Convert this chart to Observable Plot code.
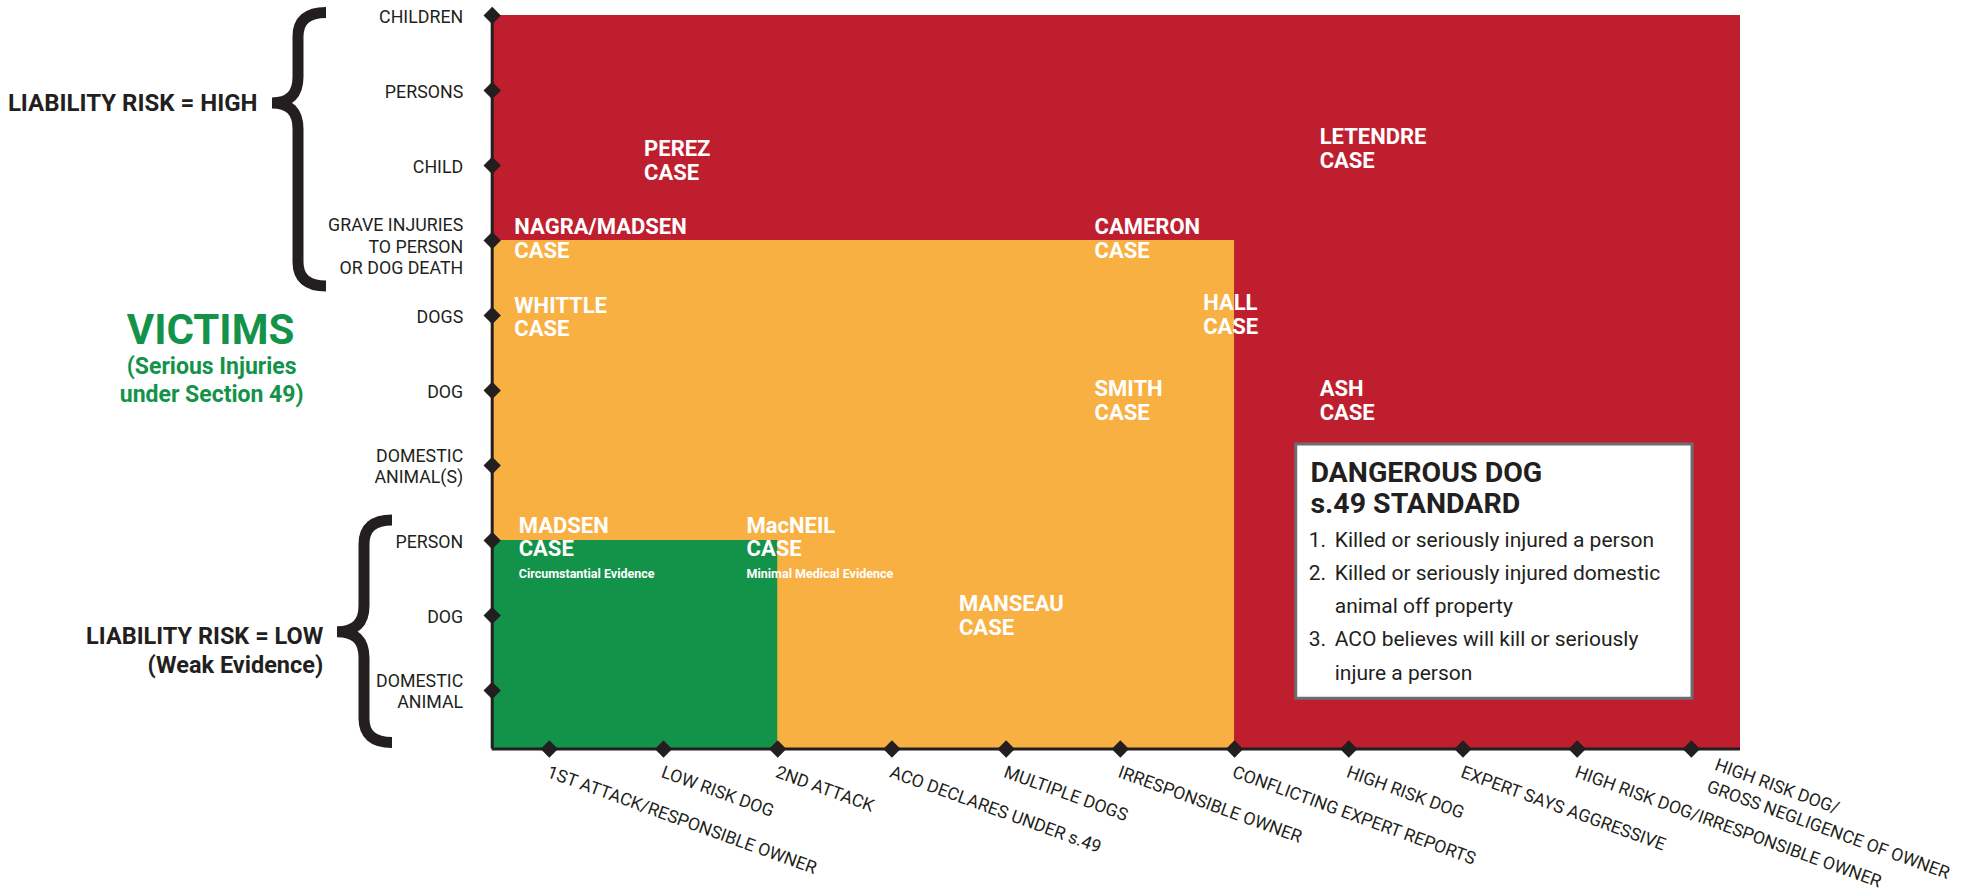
<!DOCTYPE html>
<html><head><meta charset="utf-8">
<script src="https://cdn.jsdelivr.net/npm/d3@7"></script>
<script src="https://cdn.jsdelivr.net/npm/@observablehq/plot@0.6"></script>
<style>
html,body{margin:0;padding:0;background:#fff;}
#chart svg{display:block;overflow:visible;}
</style></head><body><div id="chart"></div>
<script>
// ---- data ----
const xCategories = [
  "1ST ATTACK/RESPONSIBLE OWNER", "LOW RISK DOG", "2ND ATTACK", "ACO DECLARES UNDER s.49",
  "MULTIPLE DOGS", "IRRESPONSIBLE OWNER", "CONFLICTING EXPERT REPORTS", "HIGH RISK DOG",
  "EXPERT SAYS AGGRESSIVE", "HIGH RISK DOG/IRRESPONSIBLE OWNER", "HIGH RISK DOG/\nGROSS NEGLIGENCE OF OWNER"
];
const yCategories = [
  "DOMESTIC\nANIMAL", "DOG", "PERSON", "DOMESTIC\nANIMAL(S)", "DOG", "DOGS",
  "GRAVE INJURIES\nTO PERSON\nOR DOG DEATH", "CHILD", "PERSONS", "CHILDREN"
];
// risk zones: each extends from the origin up to the given x / y category
const zoneLevels = ["high", "moderate", "low"];
const zoneXTo = [null, "CONFLICTING EXPERT REPORTS", "2ND ATTACK"];
const zoneYTo = [null, "GRAVE INJURIES\nTO PERSON\nOR DOG DEATH", "PERSON"];
const zoneColors = ["#be1e2d", "#f9b042", "#13934a"];
// cases placed on the matrix (x, y in category-index units)
const caseNames = ["PEREZ", "LETENDRE", "NAGRA/MADSEN", "CAMERON", "WHITTLE", "HALL", "SMITH", "ASH", "MADSEN", "MacNEIL", "MANSEAU"];
const caseX = [0.83, 6.745, -0.306, 4.774, -0.306, 5.725, 4.774, 6.745, -0.268, 1.727, 3.587];
const caseY = [7.343, 7.503, 6.303, 6.303, 5.253, 5.289, 4.143, 4.143, 2.32, 2.32, 1.276];
const noteTexts = ["Circumstantial Evidence", "Minimal Medical Evidence"];
const noteCase = ["MADSEN", "MacNEIL"];
const standardTitle = "DANGEROUS DOG\ns.49 STANDARD";
const standardNumbers = "1.\n2.\n\n3.";
const standardItems = "Killed or seriously injured a person\nKilled or seriously injured domestic\nanimal off property\nACO believes will kill or seriously\ninjure a person";

// ---- setup ----
const ink = "#231f20";
const font = "Roboto, 'Liberation Sans', sans-serif";
const xMin = -0.5, xMax = 10.43, yMin = -0.78, yMax = 9;
const xIdx = xCategories.map((d, i) => i);
const yIdx = yCategories.map((d, i) => i);
const nLines = s => s.split("\n").length;
const zones = zoneLevels.map((level, i) => ({
  level,
  x1: xMin, x2: zoneXTo[i] ? xCategories.indexOf(zoneXTo[i]) : xMax,
  y1: yMin, y2: zoneYTo[i] ? yCategories.indexOf(zoneYTo[i]) : yMax,
  fill: zoneColors[i]
}));
const cases = caseNames.map((name, i) => ({name, x: caseX[i], y: caseY[i]}));
const notes = noteTexts.map((t, i) => {
  const c = cases.find(d => d.name === noteCase[i]);
  return {text: t, x: c.x, y: c.y - 0.707};
});
const box = {x1: 6.54, x2: 10.01, y1: -0.11, y2: 3.28};

const svg = Plot.plot({
  width: 1977, height: 892,
  marginLeft: 491.7, marginRight: 237, marginTop: 15, marginBottom: 143.5,
  style: {fontFamily: font, background: "#fff", overflow: "visible"},
  x: {domain: [xMin, xMax], axis: null},
  y: {domain: [yMin, yMax], axis: null},
  color: {type: "identity"},
  marks: [
    Plot.rect(zones, {x1: "x1", x2: "x2", y1: "y1", y2: "y2", fill: "fill"}),
    Plot.rect([box], {x1: "x1", x2: "x2", y1: "y1", y2: "y2", fill: "white", stroke: "#6d6e71", strokeWidth: 3}),
    Plot.text(cases, {x: "x", y: "y", text: d => d.name + "\nCASE", fill: "white", fontWeight: "bold",
      fontSize: 22, textAnchor: "start", lineAnchor: "top", lineHeight: 1.06}),
    Plot.text(notes, {x: "x", y: "y", text: "text", fill: "white", fontWeight: "bold",
      fontSize: 12.5, textAnchor: "start", lineAnchor: "top"}),
    // legend box text
    Plot.text([standardTitle], {x: () => box.x1 + 0.124, y: () => 3.075, text: d => d, fill: ink, fontWeight: "bold",
      fontSize: 28.5, textAnchor: "start", lineAnchor: "top", lineHeight: 1.09}),
    Plot.text([standardNumbers], {x: () => box.x1 + 0.11, y: () => 2.235, text: d => d, fill: ink,
      fontSize: 21, textAnchor: "start", lineAnchor: "top", lineHeight: 1.585}),
    Plot.text([standardItems], {x: () => box.x1 + 0.337, y: () => 2.235, text: d => d, fill: ink,
      fontSize: 21, textAnchor: "start", lineAnchor: "top", lineHeight: 1.585}),
    // axes lines
    Plot.ruleX([xMin], {y1: yMin, y2: yMax, stroke: ink, strokeWidth: 3}),
    Plot.ruleY([yMin], {x1: xMin, x2: xMax, stroke: ink, strokeWidth: 3}),
    // diamonds
    Plot.dot(xIdx, {x: d => d, frameAnchor: "bottom", symbol: "diamond2", r: 7.8, fill: ink, stroke: null}),
    Plot.dot(yIdx, {y: d => d, frameAnchor: "left", symbol: "diamond2", r: 7.8, fill: ink, stroke: null}),
    // x labels
    Plot.text(xIdx.slice(0, 10), {x: d => d, text: d => xCategories[d], frameAnchor: "bottom", rotate: 20,
      textAnchor: "start", lineAnchor: "top", dx: 1, dy: 16, fontSize: 17.6, fill: ink}),
    Plot.text(xIdx.slice(10), {x: d => d, text: d => xCategories[d], frameAnchor: "bottom", rotate: 20,
      textAnchor: "start", lineAnchor: "top", dx: 28, dy: 5, fontSize: 17.6, lineHeight: 1.32, fill: ink}),
    // y labels
    Plot.text(yIdx.filter(i => nLines(yCategories[i]) < 3), {y: d => d, text: d => yCategories[d], frameAnchor: "left", dx: -29, dy: 0,
      textAnchor: "end", lineAnchor: "middle", fontSize: 17.8, lineHeight: 1.23, fill: ink}),
    Plot.text(yIdx.filter(i => nLines(yCategories[i]) >= 3), {y: d => d, text: d => yCategories[d], frameAnchor: "left", dx: -29, dy: 5,
      textAnchor: "end", lineAnchor: "middle", fontSize: 17.8, lineHeight: 1.23, fill: ink}),
    // left annotations
    Plot.text(["LIABILITY RISK = HIGH"], {y: () => 7.83, text: d => d, frameAnchor: "left", dx: -234.7,
      textAnchor: "end", lineAnchor: "middle", fontSize: 24, fontWeight: "bold", fill: ink}),
    Plot.text(["VICTIMS"], {y: () => 4.8, text: d => d, frameAnchor: "left", dx: -281.7,
      textAnchor: "middle", lineAnchor: "middle", fontSize: 42, fontWeight: "bold", fill: "#13934a"}),
    Plot.text(["(Serious Injuries\nunder Section 49)"], {y: () => 4.15, text: d => d, frameAnchor: "left", dx: -280.5,
      textAnchor: "middle", lineAnchor: "middle", fontSize: 23, fontWeight: "bold", lineHeight: 1.22, fill: "#13934a"}),
    Plot.text(["LIABILITY RISK = LOW\n(Weak Evidence)"], {y: () => 0.547, text: d => d, frameAnchor: "left", dx: -169,
      textAnchor: "end", lineAnchor: "middle", fontSize: 23.5, fontWeight: "bold", lineHeight: 1.2, fill: ink})
  ]
});

// curly braces, positioned with the y scale
const ys = svg.scale("y");
const left = 491.7;
function bracePath(xTip, xStem, xArm, yTop, yTip, yBot) {
  const r = 24, q = 26;
  return `M${xArm},${yTop} Q${xStem},${yTop} ${xStem},${yTop + r} L${xStem},${yTip - q}` +
    ` Q${xStem},${yTip} ${xTip},${yTip} Q${xStem},${yTip} ${xStem},${yTip + q}` +
    ` L${xStem},${yBot - r} Q${xStem},${yBot} ${xArm},${yBot}`;
}
const braces = [
  {xTip: 272 - left, xStem: 298 - left, xArm: 326 - left, top: 9.033, tip: 7.827, bot: 5.387},
  {xTip: 337 - left, xStem: 364 - left, xArm: 392 - left, top: 2.267, tip: 0.778, bot: -0.7}
];
const g = d3.select(svg).append("g").attr("transform", `translate(${left},0)`);
for (const b of braces) {
  g.append("path")
    .attr("d", bracePath(b.xTip, b.xStem, b.xArm, ys.apply(b.top), ys.apply(b.tip), ys.apply(b.bot)))
    .attr("fill", "none").attr("stroke", ink).attr("stroke-width", 11).attr("stroke-linejoin", "miter");
}
document.getElementById("chart").appendChild(svg);
</script>
</body></html>
